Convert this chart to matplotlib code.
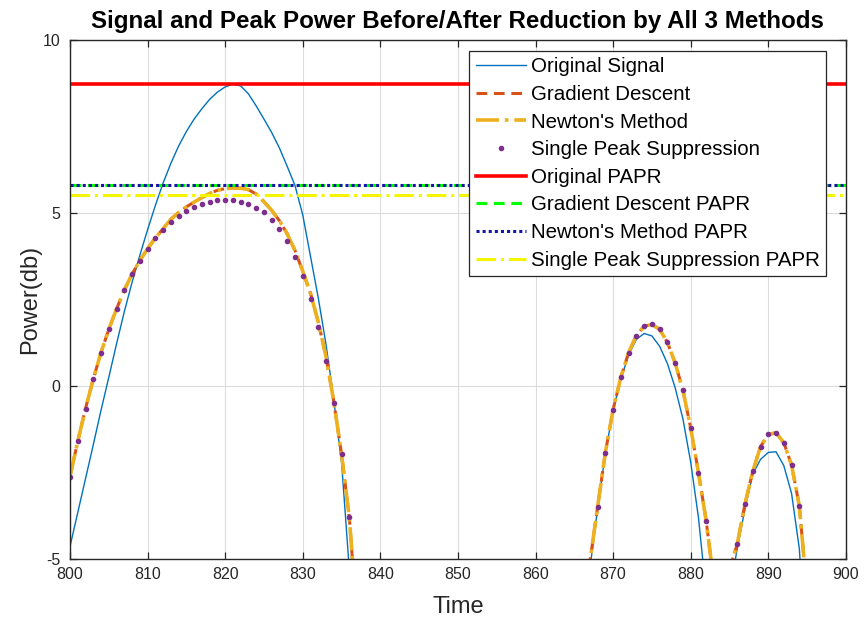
import numpy as np
import matplotlib
matplotlib.use("Agg")
import matplotlib.pyplot as plt

plt.rcParams['font.family'] = ['Liberation Sans', 'DejaVu Sans']
plt.rcParams['axes.unicode_minus'] = False

# sample index (time)
time = np.arange(800, 901)

# power of the original signal in dB, one value per sample
original_db = [
    -4.64, -3.66, -2.68, -1.70, -0.70, 0.25, 1.22, 2.15, 3.00, 3.78,
    4.52, 5.22, 5.87, 6.44, 6.94, 7.36, 7.72, 8.02, 8.29, 8.50,
    8.65, 8.73, 8.68, 8.45, 8.10, 7.72, 7.33, 6.88, 6.35, 5.80,
    4.95, 3.75, 2.55, 1.20, -0.40, -2.20, -5.30, -12.0, -15.0, -19.0,
    -24.0, -17.0, -13.0, -11.0, -12.0, -16.0, -22.0, -18.0, -14.0, -12.0,
    -13.0, -17.0, -25.0, -19.0, -14.0, -11.0, -10.0, -11.0, -14.0, -20.0,
    -23.0, -16.0, -12.0, -9.5, -8.5, -9.0, -9.0, -5.30, -3.55, -1.95,
    -0.70, 0.20, 0.90, 1.35, 1.52, 1.45, 1.15, 0.65, -0.05, -0.95,
    -2.20, -3.80, -6.00, -11.0, -10.0, -6.00, -4.70, -3.55, -2.55, -2.12,
    -1.92, -1.90, -2.30, -3.10, -4.70, -8.00, -12.0, -15.0, -13.0, -10.0,
    -11.0,
]

# after gradient descent peak reduction
gradient_db = [
    -2.62, -1.60, -0.65, 0.20, 0.97, 1.64, 2.23, 2.77, 3.24, 3.63,
    3.97, 4.28, 4.55, 4.82, 5.02, 5.18, 5.32, 5.45, 5.57, 5.66,
    5.71, 5.73, 5.72, 5.68, 5.55, 5.33, 5.08, 4.78, 4.40, 3.92,
    3.32, 2.68, 1.85, 0.85, -0.45, -1.97, -3.80, -6.80, -11.0, -14.0,
    -18.0, -15.0, -12.0, -10.0, -11.0, -14.0, -19.0, -16.0, -13.0, -11.0,
    -12.0, -15.0, -21.0, -17.0, -13.0, -10.0, -9.5, -10.0, -13.0, -18.0,
    -20.0, -15.0, -11.0, -9.0, -8.0, -8.5, -8.0, -5.10, -3.50, -1.93,
    -0.68, 0.25, 0.97, 1.46, 1.73, 1.78, 1.64, 1.26, 0.67, -0.12,
    -1.21, -2.50, -3.90, -5.70, -9.00, -5.30, -4.57, -3.41, -2.47, -1.75,
    -1.40, -1.35, -1.64, -2.28, -3.46, -6.00, -10.0, -13.0, -11.0, -9.0,
    -10.0,
]

# Newton's method lands on the same samples
newton_db = list(gradient_db)

# single peak suppression
single_db = [
    -2.62, -1.60, -0.65, 0.20, 0.97, 1.64, 2.23, 2.77, 3.24, 3.63,
    3.97, 4.28, 4.52, 4.73, 4.92, 5.06, 5.17, 5.27, 5.33, 5.37,
    5.39, 5.38, 5.33, 5.26, 5.16, 5.02, 4.80, 4.53, 4.18, 3.74,
    3.19, 2.52, 1.71, 0.73, -0.48, -1.97, -3.80, -6.80, -11.0, -14.0,
    -18.0, -15.0, -12.0, -10.0, -11.0, -14.0, -19.0, -16.0, -13.0, -11.0,
    -12.0, -15.0, -21.0, -17.0, -13.0, -10.0, -9.5, -10.0, -13.0, -18.0,
    -20.0, -15.0, -11.0, -9.0, -8.0, -8.5, -8.0, -5.10, -3.50, -1.93,
    -0.68, 0.25, 0.97, 1.46, 1.73, 1.78, 1.64, 1.26, 0.67, -0.12,
    -1.21, -2.50, -3.90, -5.70, -9.00, -5.30, -4.57, -3.41, -2.47, -1.75,
    -1.40, -1.35, -1.64, -2.28, -3.46, -6.00, -10.0, -13.0, -11.0, -9.0,
    -10.0,
]

# peak power levels (dB)
papr_original = 8.73
papr_gradient = 5.80
papr_newton = 5.80
papr_single = 5.53

fig = plt.figure(figsize=(8.64, 6.19), dpi=100)
ax = fig.add_axes([0.081, 0.097, 0.898, 0.838])

ax.plot(time, original_db, color='#0072BD', lw=1.0, label='Original Signal')
ax.plot(time, gradient_db, color='#D95319', lw=2.2, ls=(0, (3.5, 2.2)), label='Gradient Descent')
ax.plot(time, newton_db, color='#EDB120', lw=2.6, ls='-.', label="Newton's Method")
ax.plot(time, single_db, color='#7E2F8E', ls='none', marker='.', ms=6, label='Single Peak Suppression')

ax.axhline(papr_original, color='#FF0000', lw=2.6, label='Original PAPR')
ax.axhline(papr_gradient, color='#00FF00', lw=2.2, ls=(0, (3.5, 2.2)), label='Gradient Descent PAPR')
ax.axhline(papr_newton, color='#1515A8', lw=2.2, ls=(0, (1, 1)), label="Newton's Method PAPR")
ax.axhline(papr_single, color='#F5F500', lw=2.2, ls='-.', label='Single Peak Suppression PAPR')

ax.set_xlim(800, 900)
ax.set_ylim(-5, 10)
ax.set_xticks(np.arange(800, 901, 10))
ax.set_yticks([-5, 0, 5, 10])
ax.grid(True, color='#DCDCDC', lw=0.8)
ax.set_axisbelow(True)
ax.tick_params(direction='in', top=True, right=True, length=5, width=0.9,
               labelsize=11.5, labelcolor='#262626', color='#262626')
ax.tick_params(axis='x', pad=6)
ax.tick_params(axis='y', pad=7)
for sp in ax.spines.values():
    sp.set_color('#262626')
    sp.set_linewidth(1.0)

ax.set_title('Signal and Peak Power Before/After Reduction by All 3 Methods',
             fontsize=17.4, fontweight='bold', pad=9)
ax.set_xlabel('Time', fontsize=17, color='#262626', labelpad=10)
ax.set_ylabel('Power(db)', fontsize=17, color='#262626', labelpad=1)

leg = ax.legend(loc='upper right', bbox_to_anchor=(0.9745, 0.979), fontsize=14.8,
                handlelength=2.45, handletextpad=0.25, labelspacing=0.42,
                borderpad=0.3, borderaxespad=0, fancybox=False, framealpha=1)
leg.get_frame().set_edgecolor('#262626')
leg.get_frame().set_linewidth(0.9)

fig.savefig('out.png', dpi=100)
